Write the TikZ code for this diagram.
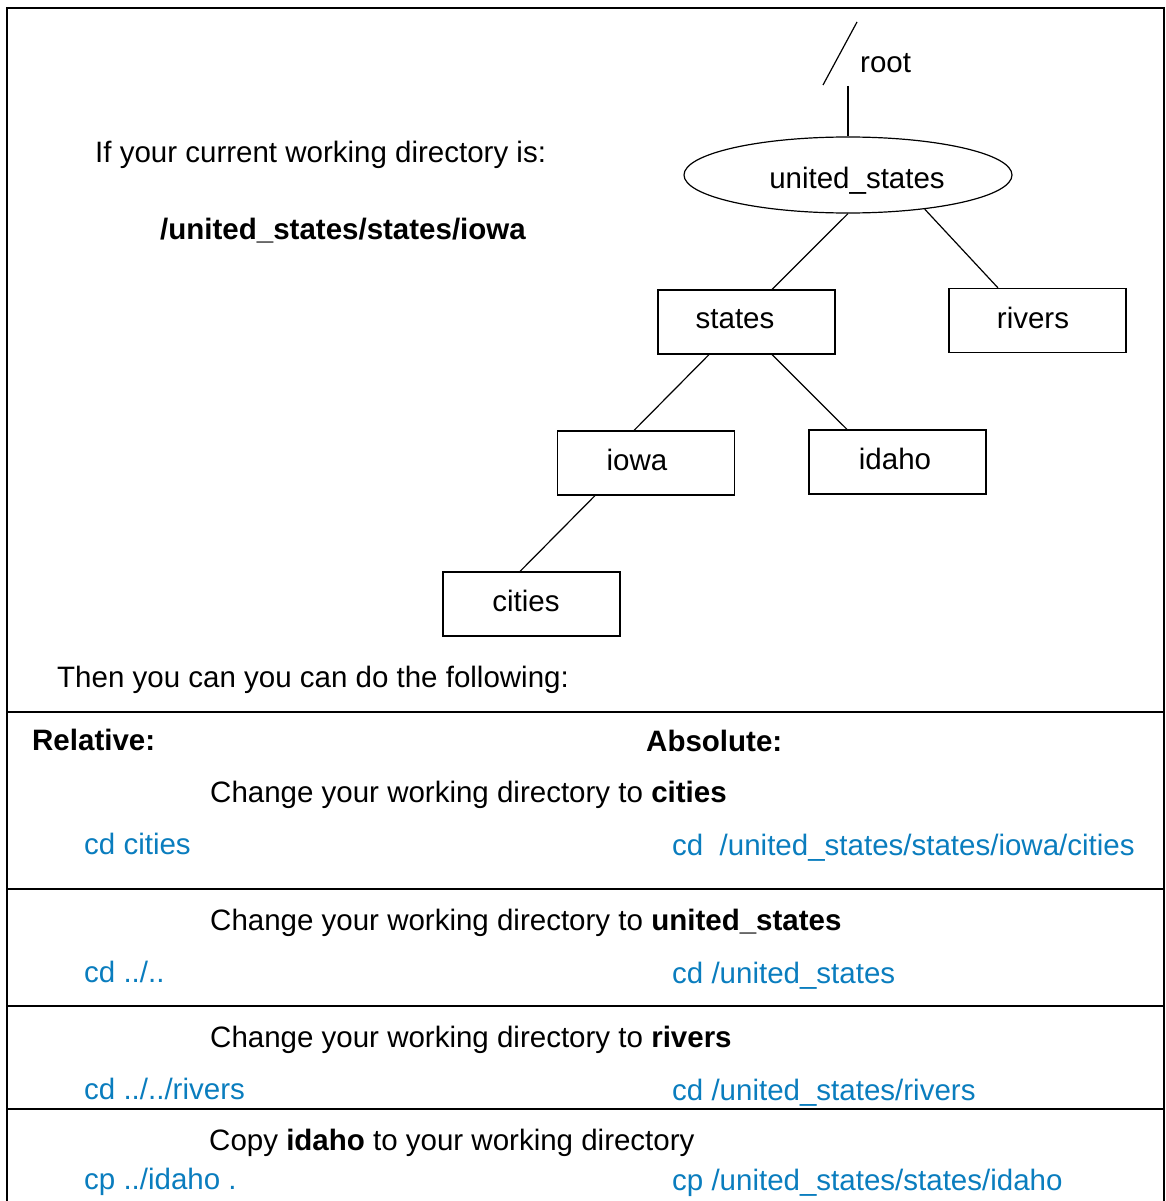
\documentclass[tikz,border=0pt]{standalone}
\usepackage{fontspec}
\setmainfont{Liberation Sans}
\usetikzlibrary{shapes.geometric}
\definecolor{cmdblue}{RGB}{10,125,190}
\begin{document}
\begin{tikzpicture}[x=1pt,y=-1pt,
  every node/.style={font=\fontsize{29.5}{34}\selectfont},
  txt/.style={anchor=west,inner sep=0pt,text height=0.716em,text depth=0pt},
  cmd/.style={txt,text=cmdblue},
  bold/.style={font=\fontsize{29.5}{34}\selectfont\bfseries},
  dirbox/.style={draw,line width=1.2pt,minimum width=177pt,minimum height=64pt,inner sep=0pt},
  boxlabel/.style={inner sep=0pt},
  edge/.style={line width=1.2pt},
  frame/.style={line width=2pt},
  rule/.style={line width=1.3pt}]
\useasboundingbox (0,0) rectangle (1166,1201);

% outer frame (open at the bottom)
\draw[frame] (7,1201) -- (7,8) -- (1164,8) -- (1164,1201);

% section rules
\foreach \yy in {712,889,1006,1109}
  \draw[rule] (7,\yy) -- (1164,\yy);

% heading
\node[txt] (intro) at (95,159) {If your current working directory is:};
\node[txt,bold] (cwd) at (160,236) {/united\_states/states/iowa};

% directory tree
\coordinate (slashlow) at (823,85);
\coordinate (slashhigh) at (857,22);
\draw[edge] (slashlow) -- (slashhigh);
\node[txt] (rootlbl) at (860,69) {root};
\coordinate (roottip) at (848,86);

\node[draw,ellipse,line width=1.2pt,minimum width=328pt,minimum height=76pt,inner sep=0pt] (us) at (848,175) {};
\node[boxlabel] (uslbl) at (857,181) {united\_states};

\node[dirbox] (states) at (746.5,322) {};
\node[dirbox] (rivers) at (1037.5,320.5) {};
\node[dirbox] (iowa) at (646,463) {};
\node[dirbox] (idaho) at (897.5,462) {};
\node[dirbox] (cities) at (531.5,604) {};

\node[boxlabel] (stateslbl) at (735,319) {states};
\node[boxlabel] (riverslbl) at (1033,317.5) {rivers};
\node[boxlabel] (iowalbl) at (637,460) {iowa};
\node[boxlabel] (idaholbl) at (895,459) {idaho};
\node[boxlabel] (citieslbl) at (526,601) {cities};

\draw[edge] (roottip) -- (us.north);
\draw[edge] (us.south) -- ([xshift=25.5pt]states.north);
\draw[edge] (us.-24.6) -- ([xshift=-39.5pt]rivers.north);
\draw[edge] ([xshift=-37.5pt]states.south) -- ([xshift=-12pt]iowa.north);
\draw[edge] ([xshift=25.5pt]states.south) -- ([xshift=-50.5pt]idaho.north);
\draw[edge] ([xshift=-51pt]iowa.south) -- ([xshift=-11.5pt]cities.north);

\node[txt] (then) at (57,684) {Then you can you can do the following:};

% command table
\node[txt,bold] (rel) at (32,747) {Relative:};
\node[txt,bold] (abs) at (646,748) {Absolute:};

\node[txt] (t1) at (210,799) {Change your working directory to \textbf{cities}};
\node[cmd] (r1) at (84,851) {cd cities};
\node[cmd] (a1) at (672,852) {cd\ \ /united\_states/states/iowa/cities};

\node[txt] (t2) at (210,927) {Change your working directory to \textbf{united\_states}};
\node[cmd] (r2) at (84,979) {cd ../..};
\node[cmd] (a2) at (672,980) {cd /united\_states};

\node[txt] (t3) at (210,1044) {Change your working directory to \textbf{rivers}};
\node[cmd] (r3) at (84,1096) {cd ../../rivers};
\node[cmd] (a3) at (672,1097) {cd /united\_states/rivers};

\node[txt] (t4) at (209,1147) {Copy \textbf{idaho} to your working directory};
\node[cmd] (r4) at (84,1186) {cp ../idaho .};
\node[cmd] (a4) at (672,1187) {cp /united\_states/states/idaho};
\end{tikzpicture}
\end{document}
